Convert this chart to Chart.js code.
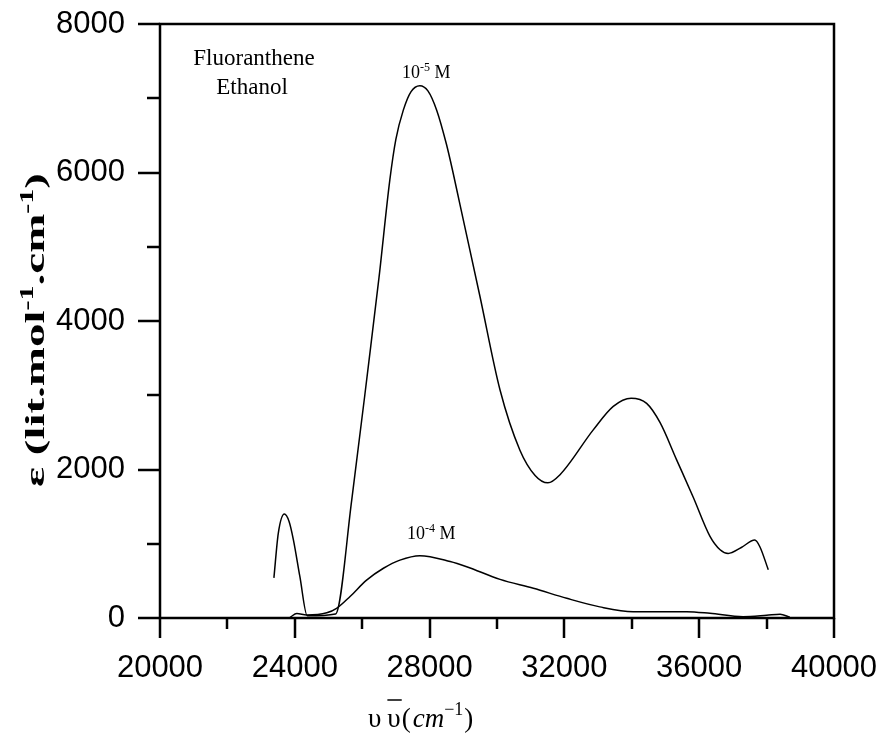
<!DOCTYPE html>
<html>
<head>
<meta charset="utf-8">
<script src="https://cdn.jsdelivr.net/npm/chart.js@4.4.0/dist/chart.umd.min.js"></script>
<style>
  html, body { margin: 0; padding: 0; background: #fff; }
</style>
</head>
<body>
<canvas id="chart" width="882" height="735"></canvas>
<script>
// --- DATA ---
// 10^-5 M curve
const wave5 = [23380, 23510, 23690, 23830, 23960, 24150, 24370, 25210, 25690, 26200,
  26500, 26820, 27000, 27220, 27450, 27710, 27950, 28210, 28500, 28700,
  28900, 29490, 30090, 30680, 31130, 31510, 31870, 32850, 33450, 33980,
  34440, 34840, 35330, 35820, 36320, 36620, 36860, 37250, 37650, 37800,
  38050];
const eps5 = [540, 1140, 1400, 1300, 1050, 560, 30, 55, 1590, 3460,
  4590, 5900, 6450, 6840, 7090, 7170, 7100, 6840, 6380, 5990,
  5570, 4340, 3070, 2260, 1920, 1820, 1930, 2530, 2850, 2960,
  2890, 2630, 2130, 1630, 1100, 920, 870, 950, 1050, 960,
  650];

// 10^-4 M curve
const wave4 = [23860, 24060, 24350, 24950, 25240, 25640, 26130, 26630, 27120, 27710,
  28610, 29100, 30090, 31080, 32070, 33050, 34040, 35630, 36320, 37300,
  38000, 38400, 38690];
const eps4 = [10, 60, 40, 70, 130, 290, 510, 670, 780, 840,
  760, 690, 520, 400, 265, 150, 85, 85, 63, 18,
  36, 50, 10];

// axis ranges / ticks
const xMin = 20000, xMax = 40000, xMajor = 4000, xMinor = 2000;
const yMin = 0, yMax = 8000, yMajor = 2000, yMinor = 1000;

const toPoints = (xs, ys) => xs.map((x, i) => ({ x: x, y: ys[i] }));

const SERIF = '"Liberation Serif", "Times New Roman", serif';
const SANS = '"Liberation Sans", Arial, sans-serif';

// --- PLUGIN: frame, ticks, titles and labels ---
const decorations = {
  id: "decorations",
  afterDraw(chart) {
    const ctx = chart.ctx;
    const area = chart.chartArea;
    const xs = chart.scales.x;
    const ys = chart.scales.y;

    ctx.save();
    ctx.strokeStyle = "#000";
    ctx.lineWidth = 2.5;
    ctx.lineCap = "butt";

    // box
    ctx.strokeRect(area.left, area.top, area.right - area.left, area.bottom - area.top);

    // x ticks (outward, bottom)
    for (let v = xMin; v <= xMax; v += xMinor) {
      const px = Math.round(xs.getPixelForValue(v));
      const len = v % xMajor === 0 ? 20 : 11;
      ctx.beginPath();
      ctx.moveTo(px, area.bottom);
      ctx.lineTo(px, area.bottom + len);
      ctx.stroke();
    }
    // y ticks (outward, left)
    for (let v = yMin; v <= yMax; v += yMinor) {
      const py = Math.round(ys.getPixelForValue(v));
      const len = v % yMajor === 0 ? 22 : 13;
      ctx.beginPath();
      ctx.moveTo(area.left, py);
      ctx.lineTo(area.left - len, py);
      ctx.stroke();
    }

    ctx.fillStyle = "#000";
    ctx.textBaseline = "alphabetic";

    // sample label
    ctx.font = "23px " + SERIF;
    ctx.textAlign = "center";
    ctx.fillText("Fluoranthene", 254, 65);
    ctx.fillText("Ethanol", 252, 94);

    // concentration labels
    ctx.textAlign = "left";
    const conc = (x, y, exp) => {
      ctx.font = "18px " + SERIF;
      ctx.fillText("10", x, y);
      x += ctx.measureText("10").width;
      ctx.font = "12px " + SERIF;
      ctx.fillText(exp, x, y - 7);
      x += ctx.measureText(exp).width;
      ctx.font = "18px " + SERIF;
      ctx.fillText(" M", x, y);
    };
    conc(402, 78, "-5");
    conc(407, 539, "-4");

    // x axis title
    let tx = 368;
    const ty = 727;
    ctx.font = "27px " + SERIF;
    ctx.fillText("\u03c5", tx, ty);
    tx += ctx.measureText("\u03c5").width + 6;
    const w2 = ctx.measureText("\u03c5").width;
    ctx.fillText("\u03c5", tx, ty);
    ctx.lineWidth = 1.5;
    ctx.beginPath();
    ctx.moveTo(tx, 700);
    ctx.lineTo(tx + w2 + 1, 700);
    ctx.stroke();
    tx += w2 + 1;
    ctx.fillText("(", tx, ty);
    tx += ctx.measureText("(").width + 2;
    ctx.font = "italic 27px " + SERIF;
    ctx.fillText("cm", tx, ty);
    tx += ctx.measureText("cm").width;
    ctx.font = "18px " + SERIF;
    ctx.fillText("\u22121", tx, ty - 12);
    tx += ctx.measureText("\u22121").width + 1;
    ctx.font = "27px " + SERIF;
    ctx.fillText(")", tx, ty);

    // y axis title (rotated, stretched to the reference length)
    const parts = [
      { t: "\u03b5 (lit.mol", sup: false },
      { t: "-1", sup: true },
      { t: ".cm", sup: false },
      { t: "-1", sup: true },
      { t: ")", sup: false }
    ];
    const fontFor = (p) => "bold " + (p.sup ? "18px " : "28px ") + SERIF;
    let total = 0;
    parts.forEach(p => { ctx.font = fontFor(p); total += ctx.measureText(p.t).width; });
    const targetLen = 314;
    ctx.translate(44, 487);
    ctx.rotate(-Math.PI / 2);
    ctx.scale(targetLen / total, 1);
    let cx = 0;
    parts.forEach(p => {
      ctx.font = fontFor(p);
      ctx.fillText(p.t, cx, p.sup ? -11 : 0);
      cx += ctx.measureText(p.t).width;
    });

    ctx.restore();
  }
};

const lineStyle = {
  borderColor: "#000",
  borderWidth: 1.5,
  pointRadius: 0,
  fill: false,
  cubicInterpolationMode: "monotone"
};

// remove label-overflow padding so the plot box sits exactly where the layout padding says
const noOverflow = (scale) => {
  scale.paddingTop = 0;
  scale.paddingBottom = 0;
  scale.paddingLeft = 0;
  scale.paddingRight = 0;
};

new Chart(document.getElementById("chart").getContext("2d"), {
  type: "line",
  data: {
    datasets: [
      Object.assign({ label: "10-5 M", data: toPoints(wave5, eps5) }, lineStyle),
      Object.assign({ label: "10-4 M", data: toPoints(wave4, eps4) }, lineStyle)
    ]
  },
  options: {
    responsive: false,
    animation: false,
    devicePixelRatio: 1,
    layout: { padding: { left: 0, right: 48, top: 24, bottom: 0 } },
    plugins: {
      legend: { display: false },
      tooltip: { enabled: false }
    },
    scales: {
      x: {
        type: "linear",
        min: xMin,
        max: xMax,
        grid: { display: false, drawTicks: false },
        border: { display: false },
        ticks: {
          stepSize: xMajor,
          maxRotation: 0,
          padding: 32,
          color: "#000",
          font: { family: SANS, size: 31 },
          callback: (v) => String(v)
        },
        afterFit(scale) { scale.height = 117; noOverflow(scale); }
      },
      y: {
        min: yMin,
        max: yMax,
        grid: { display: false, drawTicks: false },
        border: { display: false },
        ticks: {
          stepSize: yMajor,
          padding: 35,
          color: "#000",
          font: { family: SANS, size: 31 },
          callback: (v) => String(v)
        },
        afterFit(scale) { scale.width = 160; noOverflow(scale); }
      }
    }
  },
  plugins: [decorations]
});
</script>
</body>
</html>
